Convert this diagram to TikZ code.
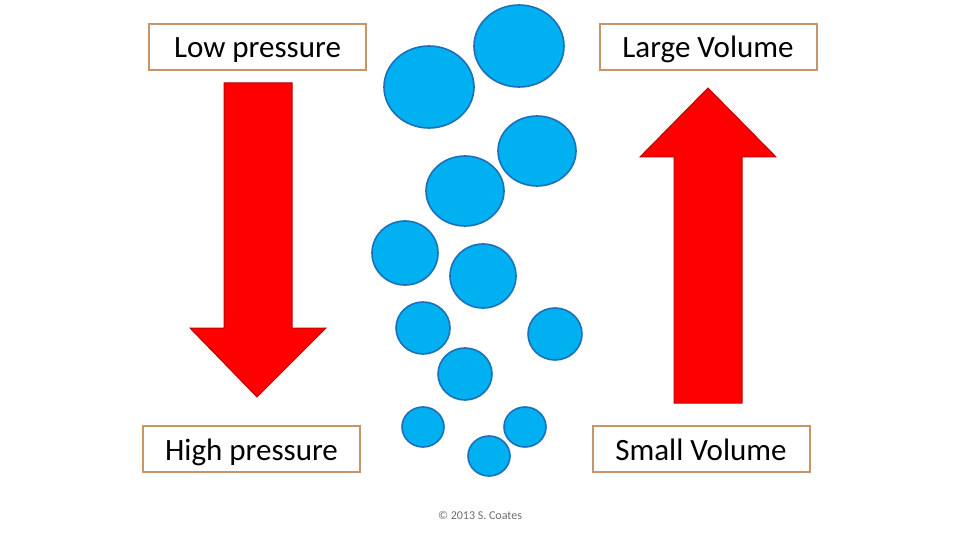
\documentclass[tikz,border=0pt]{standalone}
\usepackage{fontspec}
\setmainfont{Carlito}
\usepackage{tikz}
\usetikzlibrary{positioning,calc}
\definecolor{boxtan}{RGB}{200,149,106}
\definecolor{bubblefill}{RGB}{0,176,240}
\definecolor{bubbleline}{RGB}{28,112,185}
\definecolor{arrowred}{RGB}{255,0,0}
\definecolor{arrowline}{RGB}{192,0,0}
\definecolor{notegray}{RGB}{110,110,110}

\begin{document}
\begin{tikzpicture}[x=1pt, y=-1pt,
  labelbox/.style={draw=boxtan, line width=2pt, fill=white, minimum width=217pt, minimum height=46pt, inner sep=0pt, text height=26pt, text depth=4pt, font=\fontsize{31}{36}\selectfont},
  bigarrow/.style={fill=arrowred, draw=arrowline, line width=1pt, line join=miter},
  bubble/.style={fill=bubblefill, draw=bubbleline, line width=1.6pt}]
\useasboundingbox[fill=white] (0,0) rectangle (960,540);
% labels
\node[labelbox] (low) at (257.5,47) {Low pressure};
\node[labelbox] (large) at (708,47) {Large Volume};
\node[labelbox] (high) at (251.5,449) {High pressure};
\node[labelbox] (small) at (701,449) {Small Volume};
% pressure goes down, volume goes up
\draw[bigarrow] (224,83) -- (292,83) -- (292,328) -- (326,328) -- (257,397) -- (190,328) -- (224,328) -- cycle;
\draw[bigarrow] (674,403) -- (742,403) -- (742,157) -- (776,157) -- (708,88) -- (640,157) -- (674,157) -- cycle;
% bubbles, large at top and small at bottom
\foreach \cx/\cy/\rx/\ry in {519/46/45/41, 429/87/45/41, 537/151/39/35, 465/191/39/35,
  405/253/33/32, 483/276/33/32, 423/328/27/26, 555/334/27/26, 465/374/27/26,
  423/427/21/20, 525/427/21/20, 489/456/21/20}
  \draw[bubble] (\cx,\cy) ellipse [x radius=\rx, y radius=\ry];
\node[text=notegray, font=\fontsize{12}{14}\selectfont] (note) at (480,515) {© 2013 S.\ Coates};
\end{tikzpicture}
\end{document}
